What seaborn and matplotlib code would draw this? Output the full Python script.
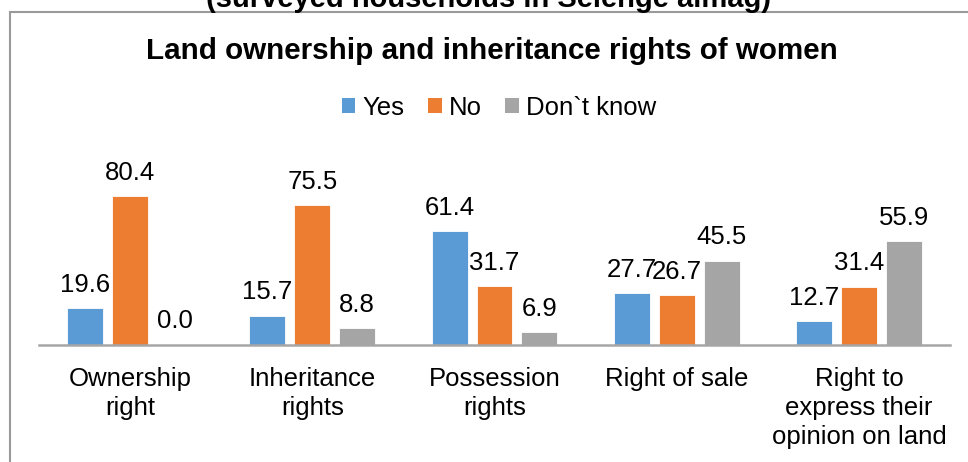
import matplotlib
matplotlib.use("Agg")
import matplotlib.pyplot as plt
from matplotlib.patches import Patch, Rectangle
import seaborn as sns
import pandas as pd

# Survey shares (%) by type of right
categories = ["Ownership\nright", "Inheritance\nrights", "Possession\nrights",
              "Right of sale", "Right to\nexpress their\nopinion on land"]
answers = ["Yes", "No", "Don`t know"]
yes_vals = [19.6, 15.7, 61.4, 27.7, 12.7]
no_vals = [80.4, 75.5, 31.7, 26.7, 31.4]
dont_know_vals = [0.0, 8.8, 6.9, 45.5, 55.9]
colors = ["#5B9BD5", "#ED7D31", "#A5A5A5"]

df = pd.DataFrame({
    "category": categories * 3,
    "answer": [a for a in answers for _ in categories],
    "value": yes_vals + no_vals + dont_know_vals,
})

sns.set_theme(style="white")
plt.rcParams["font.family"] = ["Liberation Sans", "DejaVu Sans"]
plt.rcParams["text.color"] = "#000000"

W, H = 968, 462
fig = plt.figure(figsize=(W / 100, H / 100), dpi=100)

# axes placed in pixel terms
left, right, base, top = 39, 950, 344.5, 178.4
ax = fig.add_axes([left / W, 1 - base / H, (right - left) / W, (base - top) / H])

sns.barplot(data=df, x="category", y="value", hue="answer", order=categories,
            hue_order=answers, palette=colors, width=0.74, gap=0.2,
            saturation=1, edgecolor="white", linewidth=0.6, ax=ax, legend=False)

ax.set_ylim(0, 90)
ax.set_xlim(-0.5, 4.5)
ax.set_xlabel("")
ax.set_ylabel("")
ax.set_yticks([])
for s in ["top", "right", "left"]:
    ax.spines[s].set_visible(False)
ax.spines["bottom"].set_color("#A6A6A6")
ax.spines["bottom"].set_linewidth(1.8)
ax.tick_params(axis="x", length=0, pad=16, labelsize=18.5, colors="#000000")
for lbl in ax.get_xticklabels():
    lbl.set_multialignment("center")
    lbl.set_linespacing(1.26)

for cont in ax.containers:
    ax.bar_label(cont, fmt="%.1f", padding=8, fontsize=18.5, color="#000000")

# Outer frame
fig.patches.append(Rectangle((9.5 / W, -0.1), 1.2, 1.1 - 11.5 / H,
                             transform=fig.transFigure, fill=False,
                             edgecolor="#9A9A9A", linewidth=1.5))

fig.text(0.505, 1 - 7 / H, "(surveyed households in Selenge aimag)",
         ha="center", va="baseline", fontsize=21, fontweight="bold")
fig.text(0.508, 1 - 59 / H, "Land ownership and inheritance rights of women",
         ha="center", va="baseline", fontsize=21.3, fontweight="bold")

handles = [Patch(facecolor=c, edgecolor="none") for c in colors]
fig.legend(handles, answers, loc="center", bbox_to_anchor=(499 / W, 1 - 108 / H),
           ncol=3, frameon=False, fontsize=18.5, handlelength=0.52,
           handleheight=0.52, handletextpad=0.27, columnspacing=0.93,
           borderaxespad=0, borderpad=0)

fig.savefig("out.png", dpi=100)
